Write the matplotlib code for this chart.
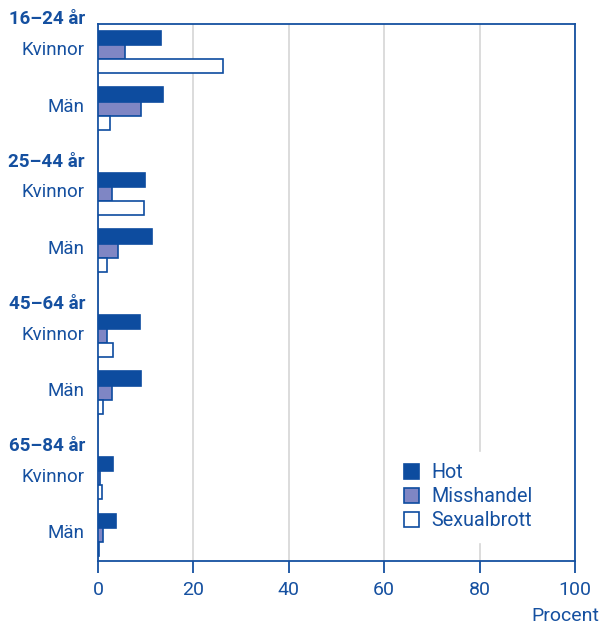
import matplotlib as mpl
mpl.use('Agg')
import matplotlib.pyplot as plt
from matplotlib.patches import Patch
from matplotlib.transforms import blended_transform_factory
import numpy as np

# data (percent)
age_groups = ['16–24 år', '25–44 år', '45–64 år', '65–84 år']
sexes = ['Kvinnor', 'Män']
series = ['Hot', 'Misshandel', 'Sexualbrott']
# order: [Kvinnor, Män] per age group
hot = [13.2, 13.6, 9.9, 11.3, 8.8, 9.0, 3.1, 3.8]
misshandel = [5.7, 9.0, 2.9, 4.2, 1.9, 2.9, 0.4, 1.0]
sexualbrott = [26.2, 2.5, 9.6, 1.9, 3.1, 1.0, 0.8, 0.3]

blue = '#1550a0'
dark = '#0d4c9f'
light = '#7f86c4'
plt.rcParams['font.family'] = ['Roboto', 'DejaVu Sans']

fig = plt.figure(figsize=(6.01, 6.24), dpi=100)
ax = fig.add_axes([98/601, 1-561/624, 477/601, 537/624])

group_step = 2.5
bar_h = 0.25
centers = []
for g in range(len(age_groups)):
    for s in range(len(sexes)):
        centers.append(g*group_step + s)
centers = np.array(centers)

styles = [dict(color=dark, edgecolor=dark),
          dict(color=light, edgecolor=dark),
          dict(color='white', edgecolor=dark)]
for i, (vals, st) in enumerate(zip([hot, misshandel, sexualbrott], styles)):
    ax.barh(centers + (i-1)*bar_h, vals, height=bar_h, facecolor=st['color'],
            edgecolor=st['edgecolor'], linewidth=1.2, zorder=3)

ax.set_xlim(0, 100)
ax.set_ylim(3*group_step + 1 + 0.46, -0.49)
ax.set_xticks(range(0, 101, 20))
# labels sit a little above the middle bar
ax.set_yticks(centers - 0.06)
ax.set_yticklabels(sexes*len(age_groups))
ax.tick_params(axis='y', length=0, pad=9.5, labelsize=13.5, labelcolor=blue)
ax.tick_params(axis='x', length=8.5, width=1.3, color=blue, pad=6, labelsize=14, labelcolor=blue)
for sp in ax.spines.values():
    sp.set_color(blue)
    sp.set_linewidth(1.3)
ax.grid(axis='x', color='#d9d9d9', linewidth=1.3, zorder=0)
ax.set_axisbelow(True)

# age group headers
tr = blended_transform_factory(ax.transAxes, ax.transData)
for g, name in enumerate(age_groups):
    ax.text(-13/477, g*group_step - 0.57, name, transform=tr, ha='right', va='center',
            fontsize=13.5, fontweight='bold', color=blue, clip_on=False)

fig.text(0.997, 1-616/624, 'Procent', ha='right', va='center', fontsize=14, color=blue)

handles = [Patch(facecolor=st['color'], edgecolor=st['edgecolor'], linewidth=1.2) for st in styles]
leg = ax.legend(handles, series, loc='upper left', bbox_to_anchor=(0.596, 0.222),
                frameon=True, fancybox=False, framealpha=1, edgecolor='white',
                fontsize=14.2, handlelength=0.75, handleheight=0.75, handletextpad=0.65,
                labelspacing=0.25, borderpad=0.6)
for t in leg.get_texts():
    t.set_color(blue)

fig.savefig('out.png', dpi=100)
